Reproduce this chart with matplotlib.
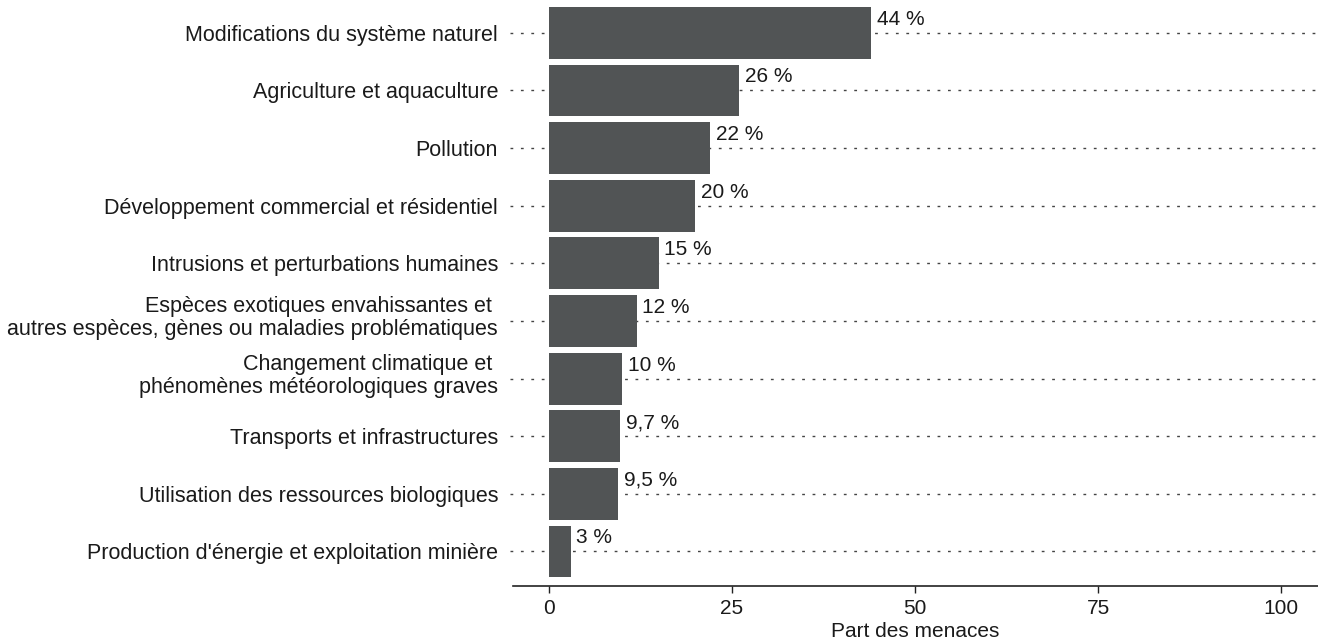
import matplotlib.pyplot as plt
from matplotlib import transforms

categories = [
    "Modifications du système naturel",
    "Agriculture et aquaculture",
    "Pollution",
    "Développement commercial et résidentiel",
    "Intrusions et perturbations humaines",
    "Espèces exotiques envahissantes et \nautres espèces, gènes ou maladies problématiques",
    "Changement climatique et \nphénomènes météorologiques graves",
    "Transports et infrastructures",
    "Utilisation des ressources biologiques",
    "Production d'énergie et exploitation minière",
]
values = [44, 26, 22, 20, 15, 12, 10, 9.7, 9.5, 3]
value_labels = ["44 %", "26 %", "22 %", "20 %", "15 %", "12 %", "10 %", "9,7 %", "9,5 %", "3 %"]
xticks = [0, 25, 50, 75, 100]

plt.rcParams['font.family'] = ['Liberation Sans', 'DejaVu Sans']

fig = plt.figure(figsize=(13.18, 6.43), dpi=100)
ax = fig.add_axes([0.389, 0.0886, 0.611, 0.9114])

ypos = list(range(len(categories)))
ax.barh(ypos, values, height=0.9, color='#515455', zorder=2)

for y, v, lab in zip(ypos, values, value_labels):
    ax.text(v + 0.8, y - 0.07, lab, ha='left', va='bottom', fontsize=15, color='#1a1a1a', zorder=3)

ax.set_ylim(9.6, -0.57)
ax.set_xlim(-4.9, 105)
ax.set_yticks(ypos)
ax.set_yticklabels(categories, fontsize=15.5, color='#1a1a1a', linespacing=1.1)
ax.tick_params(axis='y', length=0, pad=10.5)
ax.set_xticks(xticks)
ax.set_xticklabels([str(t) for t in xticks], fontsize=15, color='#1a1a1a')
ax.tick_params(axis='x', length=5, width=1, color='#222222', pad=4)
ax.set_xlabel("Part des menaces", fontsize=15, color='#1a1a1a', labelpad=3)

# two-line labels sit a little higher than centred
shift = transforms.ScaledTranslation(0, 0.06, fig.dpi_scale_trans)
for lbl in ax.get_yticklabels():
    if "\n" in lbl.get_text():
        lbl.set_transform(lbl.get_transform() + shift)

for y in ypos:
    ax.plot([-5.3, 105], [y, y], color='#444444', lw=1, dashes=(2, 5.5), zorder=1, clip_on=False)

for s in ['top', 'right', 'left']:
    ax.spines[s].set_visible(False)
ax.spines['bottom'].set_color('#222222')
ax.spines['bottom'].set_linewidth(1.2)

fig.savefig('out.png', dpi=100)
